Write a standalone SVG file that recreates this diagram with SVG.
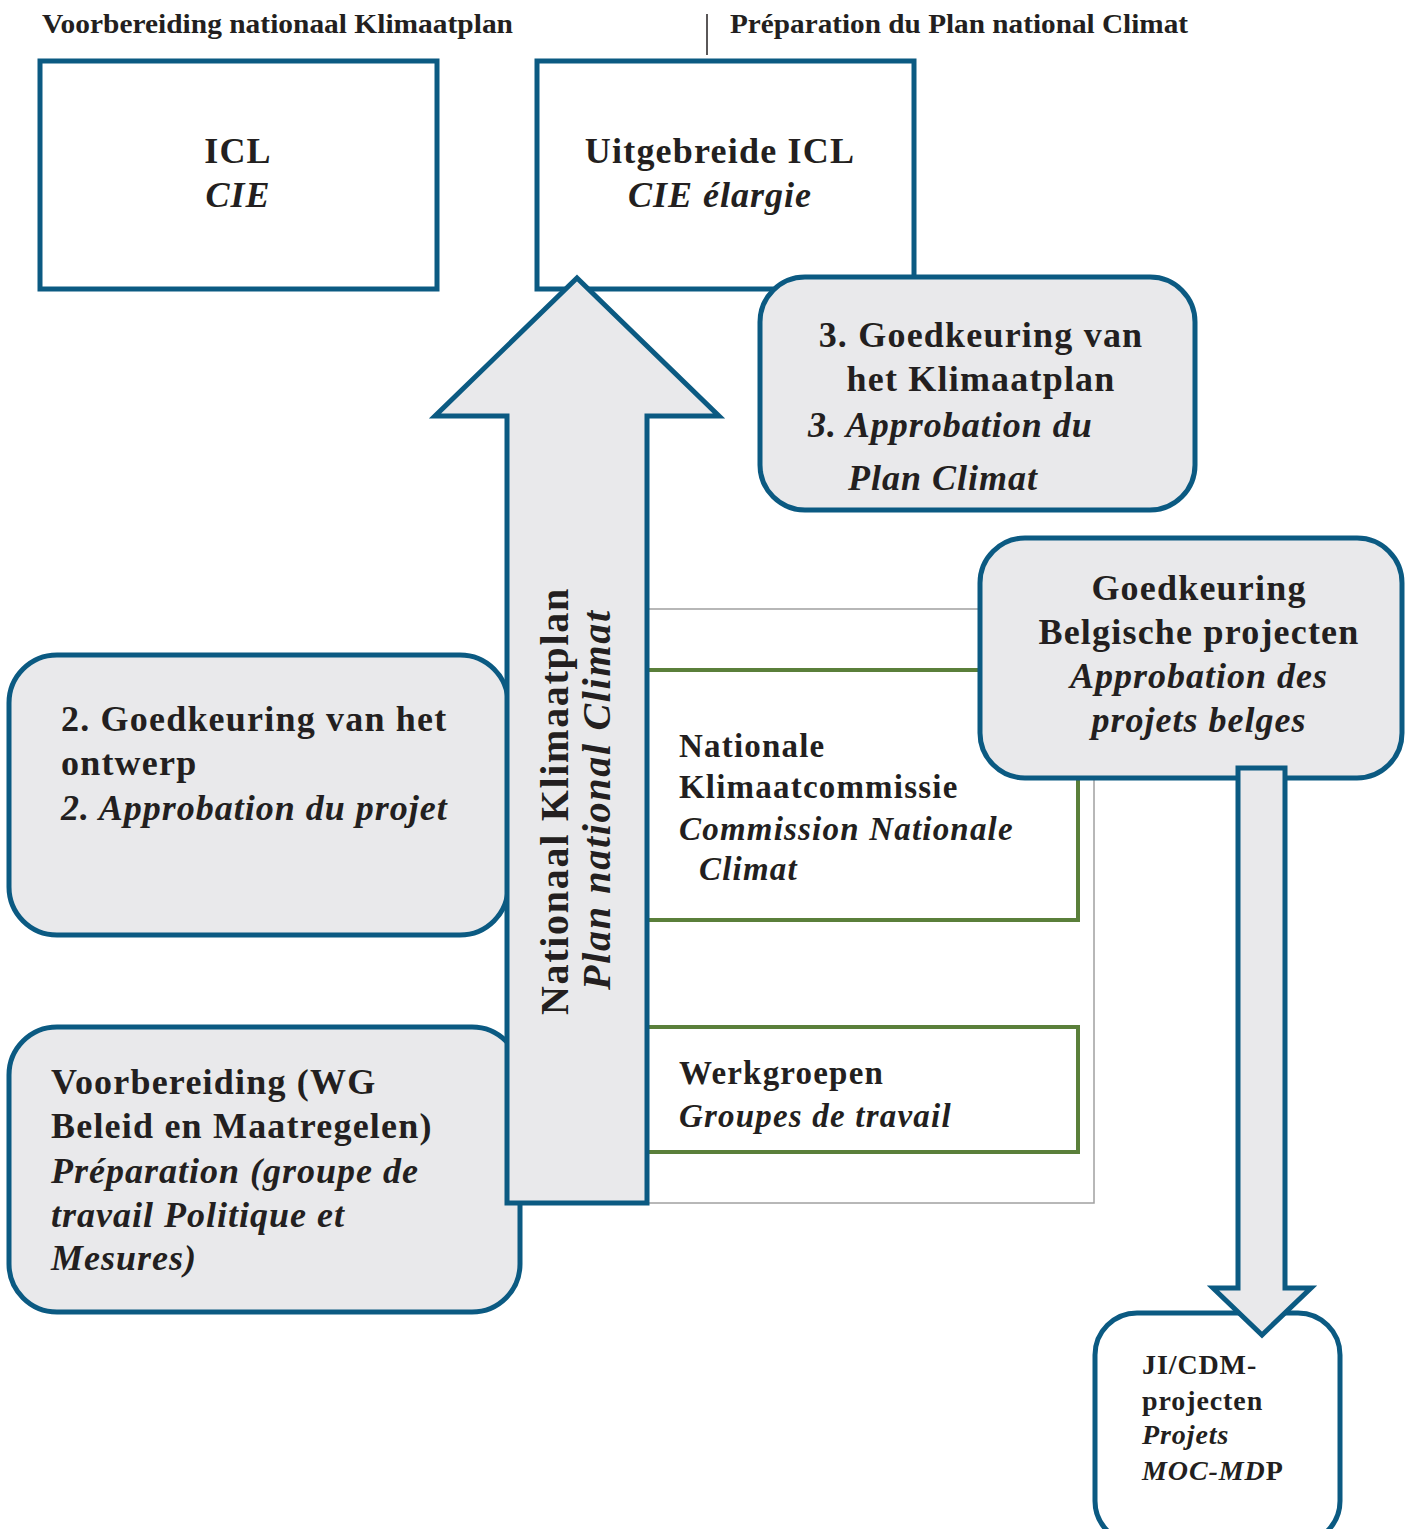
<svg xmlns="http://www.w3.org/2000/svg" width="1410" height="1529" viewBox="0 0 1410 1529">
<style>
text{font-family:"Liberation Serif","Times New Roman",serif;font-weight:bold;fill:#231f20}
.it{font-style:italic}
.hd{font-size:28px}
.big{font-size:36px;letter-spacing:1.2px}
.big.it{letter-spacing:1px}
.mid{font-size:33px;letter-spacing:1.2px}
.sm{font-size:28px;letter-spacing:0.9px}
.vt{font-size:40px;letter-spacing:1.7px}
.box{fill:#ffffff;stroke:#0b5a82;stroke-width:5}
.rbox{fill:#e9e9eb;stroke:#0b5a82;stroke-width:5}
.arrow{fill:#e9e9eb;stroke:#0b5a82;stroke-width:5;stroke-linejoin:miter}
.green{fill:none;stroke:#5a7f3a;stroke-width:4}
.c{text-anchor:middle}
</style>
<g id="headers">
<text class="hd" x="42" y="33" textLength="471" lengthAdjust="spacingAndGlyphs">Voorbereiding nationaal Klimaatplan</text>
<line x1="707" y1="14" x2="707" y2="55" stroke="#231f20" stroke-width="1.5"/>
<text class="hd" x="730" y="33" textLength="458" lengthAdjust="spacingAndGlyphs">Préparation du Plan national Climat</text>
</g>
<g id="icl">
<rect class="box" x="40" y="61" width="397" height="228"/>
<text class="big c" x="238" y="163">ICL</text>
<text class="big c it" x="238" y="207">CIE</text>
</g>
<g id="icl-uitgebreid">
<rect class="box" x="537" y="61" width="377" height="228"/>
<text class="big c" x="720" y="163">Uitgebreide ICL</text>
<text class="big c it" x="720" y="207">CIE élargie</text>
</g>
<g id="commissie-frame">
<rect x="647" y="609" width="447" height="594" fill="none" stroke="#a0a0a0" stroke-width="1.5"/>
</g>
<g id="nationale-klimaatcommissie">
<rect class="green" x="640" y="670" width="438" height="250"/>
<text class="mid" x="679" y="757">Nationale</text>
<text class="mid" x="679" y="798">Klimaatcommissie</text>
<text class="mid it" x="679" y="840">Commission Nationale</text>
<text class="mid it" x="699" y="880">Climat</text>
</g>
<g id="werkgroepen">
<rect class="green" x="640" y="1027" width="438" height="125"/>
<text class="mid" x="679" y="1084">Werkgroepen</text>
<text class="mid it" x="679" y="1127">Groupes de travail</text>
</g>
<g id="goedkeuring-ontwerp">
<rect class="rbox" x="9" y="655" width="499" height="280" rx="48"/>
<text class="big" x="61" y="731">2. Goedkeuring van het</text>
<text class="big" x="61" y="775">ontwerp</text>
<text class="big it" x="61" y="820">2. Approbation du projet</text>
</g>
<g id="voorbereiding">
<rect class="rbox" x="9" y="1027" width="511" height="285" rx="48"/>
<text class="big" x="51" y="1094">Voorbereiding (WG</text>
<text class="big" x="51" y="1138">Beleid en Maatregelen)</text>
<text class="big it" x="51" y="1183">Préparation (groupe de</text>
<text class="big it" x="51" y="1227">travail Politique et</text>
<text class="big it" x="51" y="1270">Mesures)</text>
</g>
<g id="goedkeuring-klimaatplan">
<rect class="rbox" x="760" y="277" width="435" height="233" rx="45"/>
<text class="big c" x="981" y="347">3. Goedkeuring van</text>
<text class="big c" x="981" y="391">het Klimaatplan</text>
<text class="big it" x="808" y="437">3. Approbation du</text>
<text class="big it" x="848" y="490">Plan Climat</text>
</g>
<g id="connectors">
<path class="arrow" d="M577,278 L719,416 L647,416 L647,1203 L507,1203 L507,416 L435,416 Z"/>
<text class="vt" transform="translate(568,1015) rotate(-90)">Nationaal Klimaatplan</text>
<text class="vt it" transform="translate(610,990) rotate(-90)">Plan national Climat</text>
</g>
<g id="goedkeuring-belgische">
<rect class="rbox" x="980" y="538" width="422" height="240" rx="45"/>
<text class="big c" x="1199" y="600">Goedkeuring</text>
<text class="big c" x="1199" y="644">Belgische projecten</text>
<text class="big c it" x="1199" y="688">Approbation des</text>
<text class="big c it" x="1199" y="732">projets belges</text>
</g>
<g id="ji-cdm">
<rect class="box" x="1095" y="1313" width="245" height="230" rx="42"/>
<text class="sm" x="1142" y="1374">JI/CDM-</text>
<text class="sm" x="1142" y="1410">projecten</text>
<text class="sm it" x="1142" y="1444">Projets</text>
<text class="sm" x="1142" y="1480"><tspan class="it">MOC-MD</tspan>P</text>
</g>
<g id="connectors-down">
<path class="arrow" d="M1238,768 L1285,768 L1285,1288 L1311,1288 L1262,1335 L1213,1288 L1238,1288 Z"/>
</g>
</svg>
